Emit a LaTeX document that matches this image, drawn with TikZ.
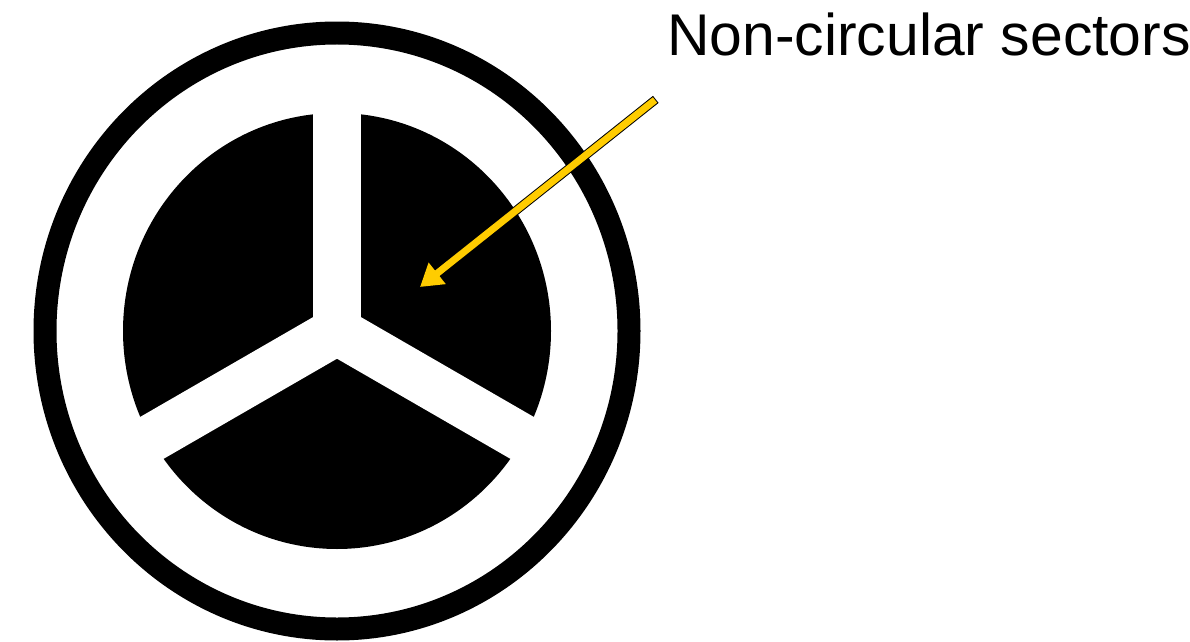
\documentclass[tikz,border=0pt]{standalone}
\usepackage{fontspec}
\setmainfont{Liberation Sans}
\usetikzlibrary{arrows.meta}
\definecolor{arrowyellow}{HTML}{FFCC00}
\tikzset{
    ring/.style={draw=black,line width=0.46cm},
    gap/.style={draw=white,line width=0.96cm,line cap=butt},
    pointer/.style={draw=arrowyellow,line width=0.14cm,
        -{Triangle[width=0.52cm,length=0.44cm]}},
}
\begin{document}
\begin{tikzpicture}[x=0.02cm,y=-0.02cm]
    \useasboundingbox (0,0) rectangle (1190,642);
    \coordinate (c) at (337,331);
    \draw[ring] (c) ellipse [x radius=292, y radius=298];
    \fill (c) ellipse [x radius=214, y radius=218];
    \foreach \a in {-90,30,150}
    {
    \draw[gap] (c) -- ++(\a:240);
    }
    \node[anchor=base west,inner sep=0pt,font=\fontsize{33.5}{40}\selectfont] (label) at (667,56) {Non-circular sectors};
    \coordinate (tail) at (655,100);
    \coordinate (tip) at (420,287);
    \draw[line width=0.18cm,shorten <=-0.02cm,shorten >=0.38cm] (tail) -- (tip);
    \draw[pointer] (tail) -- (tip);
\end{tikzpicture}
\end{document}
